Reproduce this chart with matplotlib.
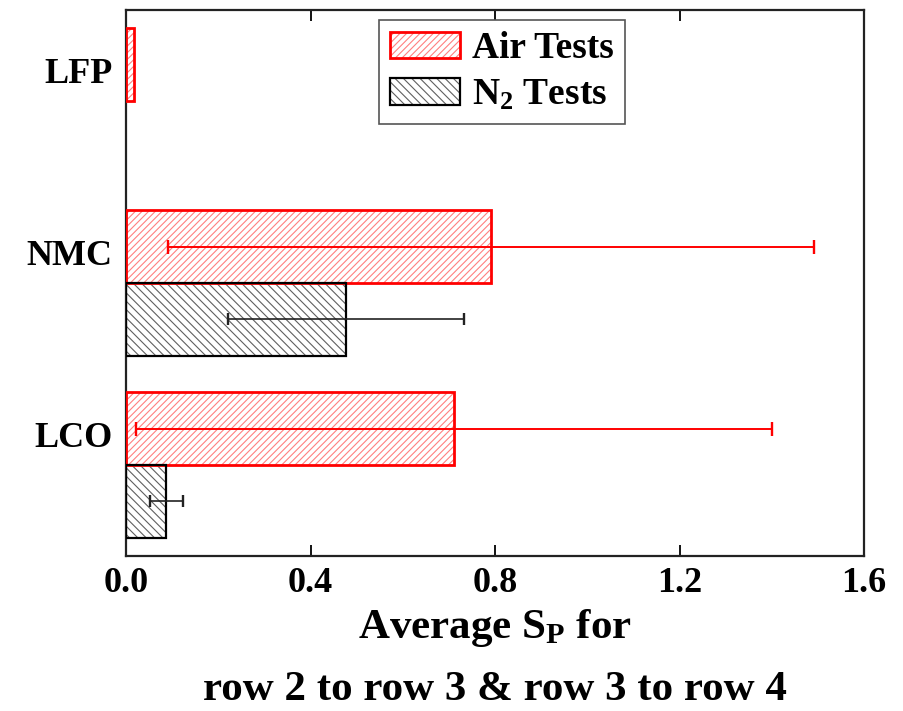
import numpy as np
import matplotlib
matplotlib.use("Agg")
import matplotlib.pyplot as plt
from matplotlib.patches import Patch
from matplotlib.legend_handler import HandlerTuple

# Cathode chemistries, bottom to top
categories = ["LCO", "NMC", "LFP"]
air_values = [0.711, 0.792, 0.017]
air_errors = [0.690, 0.700, np.nan]
n2_values = [0.087, 0.477, np.nan]
n2_errors = [0.036, 0.256, np.nan]
x_ticks = [0.0, 0.4, 0.8, 1.2, 1.6]
x_tick_labels = ["0.0", "0.4", "0.8", "1.2", "1.6"]

plt.rcParams["font.family"] = ["Liberation Serif", "DejaVu Serif"]
plt.rcParams["font.weight"] = "bold"
plt.rcParams["mathtext.fontset"] = "custom"
plt.rcParams["mathtext.rm"] = "Liberation Serif:bold"
plt.rcParams["mathtext.bf"] = "Liberation Serif:bold"
plt.rcParams["mathtext.it"] = "Liberation Serif:bold"
plt.rcParams["hatch.linewidth"] = 0.8

fig = plt.figure(figsize=(9.04, 7.11), dpi=100)
ax = fig.add_axes([0.1394, 0.218, 0.8164, 0.7677])

pos = np.arange(len(categories), dtype=float)
bar_h = 0.4
air_y = pos + bar_h / 2
n2_y = pos - bar_h / 2

air_vals = np.array(air_values, dtype=float)
n2_vals = np.array(n2_values, dtype=float)
air_err = np.array(air_errors, dtype=float)
n2_err = np.array(n2_errors, dtype=float)

air_hatch_col = "#ff8080"
n2_hatch_col = "#606060"

# hatched fill layer, then a solid outline layer on top
ax.barh(air_y, air_vals, height=bar_h, color="white", edgecolor=air_hatch_col,
        hatch="/////", linewidth=0, zorder=2)
ax.barh(air_y, air_vals, height=bar_h, fill=False, edgecolor="red",
        linewidth=2.0, zorder=3)
n2_mask = np.isfinite(n2_vals)
ax.barh(n2_y[n2_mask], n2_vals[n2_mask], height=bar_h, color="white",
        edgecolor=n2_hatch_col, hatch="\\\\\\\\", linewidth=0, zorder=2)
ax.barh(n2_y[n2_mask], n2_vals[n2_mask], height=bar_h, fill=False,
        edgecolor="black", linewidth=1.6, zorder=3)

# error bars
m = np.isfinite(air_err)
ax.errorbar(air_vals[m], air_y[m], xerr=air_err[m], fmt="none", ecolor="red",
            elinewidth=1.4, capsize=4.7, capthick=1.7, zorder=4)
m = np.isfinite(n2_err)
ax.errorbar(n2_vals[m], n2_y[m], xerr=n2_err[m], fmt="none", ecolor="#222222",
            elinewidth=1.2, capsize=4.5, capthick=1.7, zorder=4)

ax.set_xlim(0, 1.6)
ax.set_ylim(-0.5, 2.5)
ax.set_xticks(x_ticks)
ax.set_xticklabels(x_tick_labels)
ax.set_yticks(pos + 0.17)
ax.set_yticklabels(categories)

ax.tick_params(axis="x", which="major", direction="in", length=8, width=1.3,
               top=True, labelsize=26, pad=8, colors="black")
ax.tick_params(axis="y", length=0, labelsize=26, pad=10)
for lab in ax.get_xticklabels() + ax.get_yticklabels():
    lab.set_fontweight("bold")
for sp in ax.spines.values():
    sp.set_linewidth(1.6)
    sp.set_color("#222222")

# two-line axis title below the ticks
fig.text(0.5476, 1 - 638 / 711, r"Average S$_{\mathrm{P}}$ for", ha="center",
         va="baseline", fontsize=31, fontweight="bold")
fig.text(0.5476, 1 - 700 / 711, "row 2 to row 3 & row 3 to row 4", ha="center",
         va="baseline", fontsize=31, fontweight="bold")

air_handle = (Patch(facecolor="white", edgecolor=air_hatch_col, hatch="/////", linewidth=0),
              Patch(fill=False, edgecolor="red", linewidth=2.0))
n2_handle = (Patch(facecolor="white", edgecolor=n2_hatch_col, hatch="\\\\\\\\", linewidth=0),
             Patch(fill=False, edgecolor="black", linewidth=1.6))
leg = fig.legend([air_handle, n2_handle], ["Air Tests", r"N$_{2}$ Tests"],
                 handler_map={tuple: HandlerTuple(ndivide=1, pad=0)},
                 loc="upper left", bbox_to_anchor=(0.419, 0.9719),
                 bbox_transform=fig.transFigure, borderaxespad=0,
                 prop={"weight": "bold", "size": 27},
                 handlelength=1.87, handleheight=0.72, handletextpad=0.32,
                 borderpad=0.3, labelspacing=0.3, fancybox=False,
                 framealpha=1, edgecolor="#555555")
leg.get_frame().set_linewidth(1.2)

fig.savefig("out.png", dpi=100)
